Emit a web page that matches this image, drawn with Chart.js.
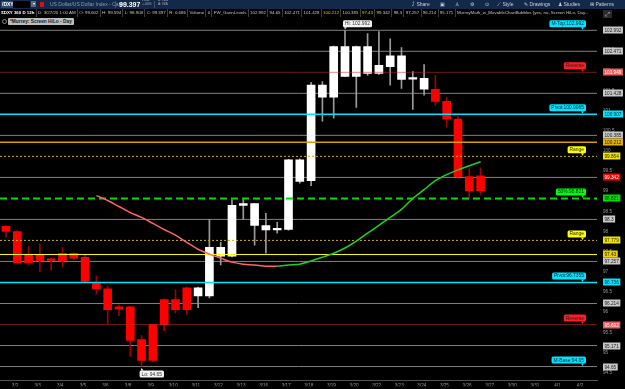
<!DOCTYPE html>
<html>
<head>
<meta charset="utf-8">
<title>$DXY 360 D 12h</title>
<script src="https://cdn.jsdelivr.net/npm/chart.js@4.4.1/dist/chart.umd.min.js"></script>
<style>
  html, body { margin: 0; padding: 0; background: #000; overflow: hidden; }
  body { width: 625px; height: 389px; position: relative; font-family: "Liberation Sans", Arial, sans-serif; }
  #contenedor { position: absolute; left: 0; top: 0; width: 625px; height: 389px; }
  .barra { position: absolute; left: 0; top: 0; width: 625px; height: 9px; background: #13294a; color: #c8d2de; font-size: 5px; }
  .barra span { position: absolute; white-space: nowrap; line-height: 9px; }
  .fila { position: absolute; left: 0; top: 9px; width: 600px; height: 8px; background: #000; display: flex; font-size: 4.4px; color: #c4c4c4; overflow: hidden; }
  .fila span { border-right: 1px solid #3a3a3a; padding: 0 1.3px; line-height: 8px; white-space: nowrap; }
  .estudio { position: absolute; left: 8px; top: 18px; height: 7px; line-height: 7px; padding: 0 2px; background: #bdbdbd; color: #1a1a1a; font-size: 4.8px; font-weight: bold; border-radius: 1px; }
  .circulo { position: absolute; left: 2px; top: 19px; width: 3px; height: 3px; border: 1px solid #888; border-radius: 50%; }
  .icono { position: absolute; left: 603px; top: 10px; width: 9px; height: 8px; background: #2a2a2a; color: #ddd; font-size: 6px; line-height: 8px; text-align: center; }
</style>
</head>
<body>
<div id="contenedor"><canvas id="grafica"></canvas></div>

<div class="barra">
  <span style="left:1px;top:1px;height:7px;line-height:7px;padding:0 1px;background:#2b4a72;color:#fff;font-weight:bold;">/DXY</span>
  <span style="left:13px;top:1px;width:17px;height:7px;background:#000;"></span>
  <span style="left:31px;top:1px;width:5px;height:6px;line-height:6px;background:#5c6b7c;color:#fff;font-size:4px;text-align:center;">▾</span>
  <span style="left:40px;top:2px;width:4px;height:5px;background:#d01414;"></span>
  <span style="left:50px;color:#8d9db3;">US Dollar/US Dollar Index - Cash</span>
  <span style="left:115px;top:1px;width:1px;height:7px;background:#3a5476;"></span>
  <span style="left:119px;font-size:7px;font-weight:bold;color:#fff;">99.397</span>
  <span style="left:142px;top:-2px;font-size:3.4px;line-height:4px;color:#aab;">-.041<br>+.00%</span>
  <span style="left:154px;top:1px;width:1px;height:7px;background:#3a5476;"></span>
  <span style="left:158px;top:-2px;font-size:3.4px;line-height:4px;color:#aab;">B: N/A<br>A: N/A</span>
  <span style="left:412px;">⤴ Share</span>
  <span style="left:440px;">▣</span>
  <span style="left:455px;">♙</span>
  <span style="left:470px;">⚙</span>
  <span style="left:485px;">⊙</span>
  <span style="left:497px;">⟋ Style</span>
  <span style="left:524px;">✎ Drawings</span>
  <span style="left:558px;">♟ Studies</span>
  <span style="left:590px;">⊞ Patterns</span>
</div>

<div class="fila">
  <span style="color:#fff;font-weight:bold;">$DXY 360 D 12h</span>
  <span>D: 3/27/20 1:00 AM</span>
  <span>O: 99.602</span>
  <span>H: 99.594</span>
  <span>L: 98.908</span>
  <span>C: 99.397</span>
  <span>R: 0.686</span>
  <span>Volume</span>
  <span>0</span>
  <span>FW_GannLevels</span>
  <span>102.992</span>
  <span>94.65</span>
  <span>102.471</span>
  <span>101.428</span>
  <span style="color:#e8c400;">100.212</span>
  <span>100.385</span>
  <span style="color:#e8c400;">97.43</span>
  <span>99.342</span>
  <span>98.3</span>
  <span>97.257</span>
  <span>96.214</span>
  <span>95.171</span>
  <span style="border-right:none;">MurreyMath_w_MovableChartBubbles (yes, no, Screen HiLo, Day...</span>
</div>
<div class="icono">⤢</div>
<div class="circulo"></div>
<div class="estudio">*Murrey: Screen HiLo - Day</div>

<script>
// Fechas del eje X (una etiqueta cada dos velas de 12h)
const dayLabels = ["3/2","3/3","3/4","3/5","3/6","3/8","3/9","3/10","3/11","3/12","3/13","3/16","3/17",
  "3/18","3/19","3/20","3/22","3/23","3/24","3/25","3/26","3/27","3/30","3/31","4/1","4/2"];

// Velas
const opens = [98.13, 98.00, 97.41, 97.41, 97.32, 97.46, 97.46, 97.36, 96.72, 96.58,
  96.13, 96.13, 95.32, 95.69, 96.31, 96.31, 96.60, 96.40, 96.40, 97.39,
  97.39, 98.65, 98.15, 98.04, 98.04, 98.05, 99.24, 99.26, 101.33, 101.33,
  101.85, 101.85, 101.92, 101.92, 102.09, 101.77, 101.78, 101.53, 101.53, 101.23,
  100.79, 99.36, 99.38];
const highs = [98.15, 98.02, 97.64, 97.69, 97.34, 97.61, 97.48, 97.42, 96.90, 96.65,
  96.18, 96.14, 95.42, 95.70, 96.33, 96.55, 96.62, 96.62, 98.30, 97.73,
  98.79, 98.79, 98.70, 98.45, 98.23, 99.79, 99.80, 101.70, 101.72, 102.60,
  102.992, 102.60, 102.91, 102.96, 102.78, 102.56, 101.97, 102.14, 101.87, 101.33,
  100.86, 99.56, 99.58];
const lows = [97.86, 97.20, 97.17, 97.00, 97.04, 97.12, 97.30, 96.75, 96.45, 95.71,
  95.91, 94.90, 94.65, 94.78, 95.54, 95.98, 95.94, 96.11, 96.35, 97.17,
  97.37, 98.30, 97.66, 97.46, 97.96, 98.03, 99.20, 99.14, 100.74, 100.81,
  101.84, 101.08, 101.87, 101.90, 101.63, 101.55, 101.03, 101.38, 101.13, 100.59,
  99.35, 98.84, 98.92];
const closes = [98.00, 97.22, 97.22, 97.27, 97.28, 97.27, 97.34, 96.77, 96.58, 96.06,
  96.08, 95.30, 94.80, 94.80, 95.69, 96.06, 96.06, 96.60, 97.61, 97.61,
  98.65, 98.69, 98.69, 98.15, 98.08, 99.78, 99.78, 101.63, 101.63, 102.59,
  102.59, 102.59, 102.59, 102.12, 102.36, 102.36, 101.82, 101.80, 101.23, 100.79,
  99.36, 99.01, 99.01];

// Media móvil (empieza en la vela 8)
const maStart = 8;
const maValues = [98.89, 98.77, 98.62, 98.47, 98.35, 98.20, 98.05, 97.91, 97.73, 97.56,
  97.44, 97.34, 97.24, 97.19, 97.17, 97.14, 97.14, 97.17, 97.19, 97.27,
  97.36, 97.46, 97.59, 97.76, 97.96, 98.15, 98.35, 98.55, 98.82, 99.04,
  99.26, 99.41, 99.53, 99.63, 99.73];

// Niveles horizontales
const grayLevels = [102.992, 102.471, 101.428, 100.385, 99.342, 98.3, 97.257, 96.214, 95.171, 94.65];
const reverseLevels = [101.949, 95.692];
const pivotLevels = [100.907, 96.736];
const rangeLevels = [99.864, 97.779];
const midLevel = 98.821;
const goldLevel = 100.212;
const yellowLevel = 97.43;
const lastPrice = 99.342;

// Eje de precios
const priceTicks = [103, 102.5, 102, 101.5, 101, 100.5, 100, 99.5, 99, 98.5, 98, 97.5, 97, 96.5, 96, 95.5, 95, 94.5];
const axisBoxValues = [102.992, 102.471, 101.949, 101.428, 100.907, 100.385, 100.212, 99.864, 99.342,
  98.821, 98.3, 97.779, 97.43, 97.257, 96.736, 96.214, 95.692, 95.171, 94.65];

// Burbujas
const calloutTexts = ["M-Top:102.992", "Reverse", "Pivot:100.9065", "Range", "50%:98.821", "Range", "Pivot:96.7355", "Reverse", "M-Base:94.65"];
const calloutValues = [102.992, 101.949, 100.907, 99.864, 98.821, 97.779, 96.736, 95.692, 94.65];
const hiText = "Hi: 102.992", hiBar = 30;
const loText = "Lo: 94.65", loBar = 12;

const xMin = -0.53, xMax = 52.3;
const yMin = 94.31, yMax = 103.52;
const tickOffset = 0.8;

const fuente = '"Liberation Sans", Arial, sans-serif';

const idx = opens.map((_, i) => i);
const subida = idx.map(i => closes[i] >= opens[i]);

function nivel(valor, color, ancho, guion, orden) {
  return {
    type: "line",
    data: [{ x: xMin, y: valor }, { x: xMax, y: valor }],
    borderColor: color,
    borderWidth: ancho,
    borderDash: guion,
    pointRadius: 0,
    fill: false,
    order: orden
  };
}

function colorCaja(v) {
  if (v === lastPrice) return ["#ff0000", "#fff"];
  if (reverseLevels.includes(v)) return ["#f05a5a", "#fff"];
  if (pivotLevels.includes(v)) return ["#00e5ff", "#0a2430"];
  if (rangeLevels.includes(v)) return ["#f2e600", "#222"];
  if (v === goldLevel) return ["#e2b400", "#222"];
  if (v === yellowLevel) return ["#f0d000", "#222"];
  if (v === midLevel) return ["#00e000", "#0a2a0a"];
  return ["#c8c8c8", "#222"];
}

function colorBurbuja(v) {
  if (reverseLevels.includes(v)) return "#ff1e1e";
  if (rangeLevels.includes(v)) return "#ffff00";
  if (v === midLevel) return "#00ff00";
  return "#00e5ff";
}

function cajaRedonda(ctx, x, y, w, h, r) {
  ctx.beginPath();
  ctx.moveTo(x + r, y);
  ctx.lineTo(x + w - r, y);
  ctx.quadraticCurveTo(x + w, y, x + w, y + r);
  ctx.lineTo(x + w, y + h - r);
  ctx.quadraticCurveTo(x + w, y + h, x + w - r, y + h);
  ctx.lineTo(x + r, y + h);
  ctx.quadraticCurveTo(x, y + h, x, y + h - r);
  ctx.lineTo(x, y + r);
  ctx.quadraticCurveTo(x, y, x + r, y);
  ctx.closePath();
  ctx.fill();
}

const etiquetas = {
  id: "etiquetas",
  afterDatasetsDraw(chart) {
    const ctx = chart.ctx;
    const sy = chart.scales.y, sx = chart.scales.x;
    const area = chart.chartArea;
    ctx.save();
    ctx.font = "4.7px " + fuente;
    ctx.textBaseline = "middle";

    // Cajas del eje de precios
    axisBoxValues.forEach(v => {
      const [fondo, texto] = colorCaja(v);
      const py = Math.round(sy.getPixelForValue(v));
      const t = String(v);
      const w = ctx.measureText(t).width + 3;
      ctx.fillStyle = fondo;
      ctx.fillRect(area.right + 6, py - 3.5, w, 7);
      ctx.fillStyle = texto;
      ctx.fillText(t, area.right + 7.5, py + 0.3);
    });

    // Burbujas de los niveles
    ctx.font = "4.9px " + fuente;
    calloutTexts.forEach((t, i) => {
      const py = sy.getPixelForValue(calloutValues[i]);
      const w = ctx.measureText(t).width + 4;
      const der = area.right - 11;
      const abajo = py - 3;
      ctx.fillStyle = colorBurbuja(calloutValues[i]);
      cajaRedonda(ctx, der - w, abajo - 7, w, 7, 1.5);
      ctx.beginPath();
      ctx.moveTo(der - 5, abajo);
      ctx.lineTo(der - 2, abajo);
      ctx.lineTo(der - 3.5, abajo + 2.5);
      ctx.fill();
      ctx.fillStyle = "#102030";
      ctx.fillText(t, der - w + 2, abajo - 3.3);
    });

    // Máximo y mínimo de pantalla
    const hx = sx.getPixelForValue(hiBar), hy = sy.getPixelForValue(highs[hiBar]);
    let w = ctx.measureText(hiText).width + 4;
    ctx.fillStyle = "#f2f2f2";
    cajaRedonda(ctx, hx - 2, hy - 10, w, 7, 1.5);
    ctx.beginPath();
    ctx.moveTo(hx - 1, hy - 3); ctx.lineTo(hx + 2, hy - 3); ctx.lineTo(hx, hy - 1); ctx.fill();
    ctx.fillStyle = "#333";
    ctx.fillText(hiText, hx, hy - 6.3);

    const lx = sx.getPixelForValue(loBar), ly = sy.getPixelForValue(lows[loBar]);
    w = ctx.measureText(loText).width + 4;
    ctx.fillStyle = "#f2f2f2";
    cajaRedonda(ctx, lx - 2, ly + 4, w, 7, 1.5);
    ctx.beginPath();
    ctx.moveTo(lx - 1, ly + 4); ctx.lineTo(lx + 2, ly + 4); ctx.lineTo(lx, ly + 1.5); ctx.fill();
    ctx.fillStyle = "#333";
    ctx.fillText(loText, lx, ly + 7.7);
    ctx.restore();
  }
};

const datasets = [];

// Líneas grises detrás de las velas
grayLevels.forEach(v => datasets.push(nivel(v, "#808080", 1, [], 4)));

// Mechas y cuerpos
datasets.push({
  type: "bar",
  data: idx.map(i => ({ x: i, y: [lows[i], highs[i]] })),
  backgroundColor: idx.map(i => subida[i] ? "#9a9a9a" : "#a00000"),
  barThickness: 1,
  grouped: false,
  borderWidth: 0,
  order: 3
});
datasets.push({
  type: "bar",
  data: idx.map(i => ({ x: i, y: [Math.min(opens[i], closes[i]), Math.max(opens[i], closes[i])] })),
  backgroundColor: idx.map(i => subida[i] ? "#ffffff" : "#ff0000"),
  barThickness: 8,
  grouped: false,
  borderWidth: 0,
  order: 2
});

// Niveles de color encima
reverseLevels.forEach(v => datasets.push(nivel(v, "rgba(200,40,40,0.55)", 1, [], 1)));
pivotLevels.forEach(v => datasets.push(nivel(v, "#00e5ff", 1.5, [], 1)));
rangeLevels.forEach(v => datasets.push(nivel(v, "#c8b400", 1, [2, 2], 1)));
datasets.push(nivel(goldLevel, "#d4a000", 1.5, [], 1));
datasets.push(nivel(yellowLevel, "#ffff00", 1, [], 1));
datasets.push(nivel(midLevel, "#00dd00", 2, [7, 4], 1));

// Media móvil roja / verde
datasets.push({
  type: "line",
  data: maValues.map((v, k) => ({ x: maStart + k, y: v })),
  borderWidth: 1.5,
  pointRadius: 0,
  tension: 0.3,
  fill: false,
  borderColor: "#ff6464",
  segment: {
    borderColor: c => c.p1.parsed.y > c.p0.parsed.y ? "#1ed21e" : "#ff6464"
  },
  order: 0
});

new Chart(document.getElementById("grafica"), {
  type: "bar",
  data: { datasets: datasets },
  options: {
    responsive: true,
    maintainAspectRatio: false,
    animation: false,
    layout: { padding: { top: 9, left: 0, right: 0, bottom: 0 } },
    plugins: { legend: { display: false }, tooltip: { enabled: false } },
    scales: {
      x: {
        type: "linear",
        min: xMin,
        max: xMax,
        offset: false,
        grid: { display: false, drawTicks: false },
        border: { display: true, color: "#555" },
        afterBuildTicks: s => { s.ticks = dayLabels.map((_, k) => ({ value: tickOffset + 2 * k })); },
        afterFit: s => { s.height = 6; },
        ticks: {
          autoSkip: false,
          maxRotation: 0,
          padding: 2.5,
          color: "#9a9a9a",
          font: { size: 4.6, family: fuente },
          callback: (v, i) => dayLabels[i]
        }
      },
      y: {
        type: "linear",
        position: "right",
        min: yMin,
        max: yMax,
        grid: { display: false, drawTicks: false },
        border: { display: false },
        afterBuildTicks: s => { s.ticks = priceTicks.map(v => ({ value: v })); },
        afterFit: s => { s.width = 28; },
        ticks: {
          autoSkip: false,
          padding: 6,
          color: "#9a9a9a",
          font: { size: 4.6, family: fuente },
          callback: v => String(v)
        }
      }
    }
  },
  plugins: [etiquetas]
});
</script>
</body>
</html>
